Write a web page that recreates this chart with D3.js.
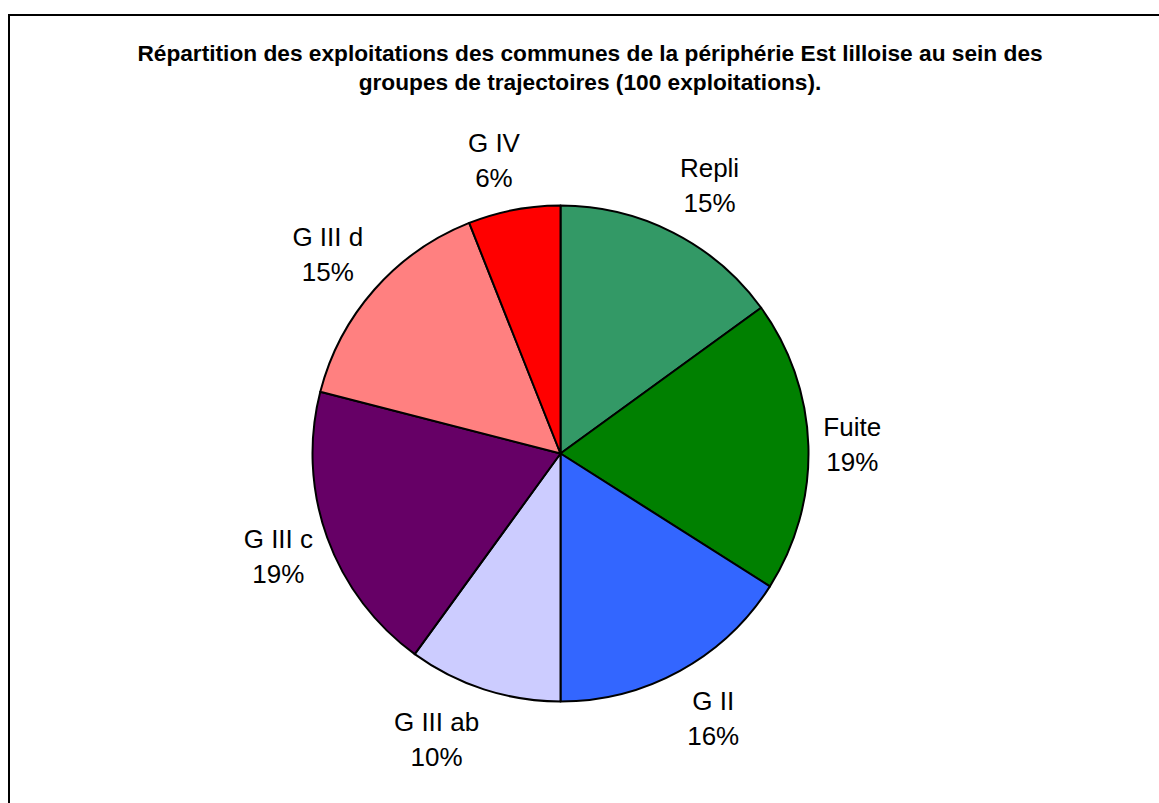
<!DOCTYPE html>
<html><head><meta charset="utf-8">
<script src="https://cdn.jsdelivr.net/npm/d3@7"></script>
<style>html,body{margin:0;padding:0;background:#fff;}svg{display:block;}</style>
</head><body>
<svg id="c" width="1159" height="803"></svg>
<script>
const titleLines = ["Répartition des exploitations des communes de la périphérie Est lilloise au sein des",
                    "groupes de trajectoires (100 exploitations)."];
const categories = ["Repli", "Fuite", "G II", "G III ab", "G III c", "G III d", "G IV"];
const values = [15, 19, 16, 10, 19, 15, 6];
const colors = ["#339966", "#008000", "#3366FF", "#CCCCFF", "#660066", "#FF8080", "#FF0000"];

const svg = d3.select("#c");
svg.append("rect").attr("x", 9).attr("y", 15).attr("width", 1170).attr("height", 820)
  .attr("fill", "#fff").attr("stroke", "#000").attr("stroke-width", 2);

const font = "'Liberation Sans', Arial, Helvetica, sans-serif";
const title = svg.append("text").attr("text-anchor", "middle").attr("font-family", font)
  .attr("font-weight", "bold").attr("font-size", 22.7).attr("fill", "#000");
titleLines.forEach((t, i) => title.append("tspan").attr("x", 590).attr("y", 61 + i * 29).text(t));

const cx = 560.5, cy = 453.5, R = 248;
const g = svg.append("g").attr("transform", `translate(${cx},${cy})`);
const total = d3.sum(values);
const pie = d3.pie().sort(null).value(d => d.v);
const data = pie(categories.map((c, i) => ({c, v: values[i], col: colors[i]})));
const arc = d3.arc().innerRadius(0).outerRadius(R);

g.selectAll("path").data(data).join("path")
  .attr("d", arc).attr("fill", d => d.data.col)
  .attr("stroke", "#000").attr("stroke-width", 2).attr("stroke-linejoin", "round");

const fs = 26, lineSp = 35, gap = 15, kx = 3.5, ky = 1.1;
const clamp = (u, k) => Math.max(-1, Math.min(1, u * k));
const lg = svg.append("g").attr("font-family", font).attr("font-size", fs).attr("fill", "#000");
data.forEach(d => {
  const pct = Math.round(d.data.v / total * 100) + "%";
  const lines = [d.data.c, pct];
  const tmp = lg.append("text").attr("text-anchor", "middle");
  lines.forEach((t, i) => tmp.append("tspan").attr("x", 0).attr("dy", i ? lineSp : 0).text(t));
  const bb = tmp.node().getBBox();
  const w = bb.width, h = 2 * lineSp;
  const a = (d.startAngle + d.endAngle) / 2;
  const ux = Math.sin(a), uy = -Math.cos(a);
  const ax = cx + (R + gap) * ux, ay = cy + (R + gap) * uy;
  const bx = ax + (w / 2) * clamp(ux, kx), by = ay + (h / 2) * clamp(uy, ky);
  tmp.remove();
  const t = lg.append("text").attr("text-anchor", "middle");
  lines.forEach((s, i) => t.append("tspan").attr("x", bx).attr("y", by - 8 + i * lineSp).text(s));
});
</script>
</body></html>
